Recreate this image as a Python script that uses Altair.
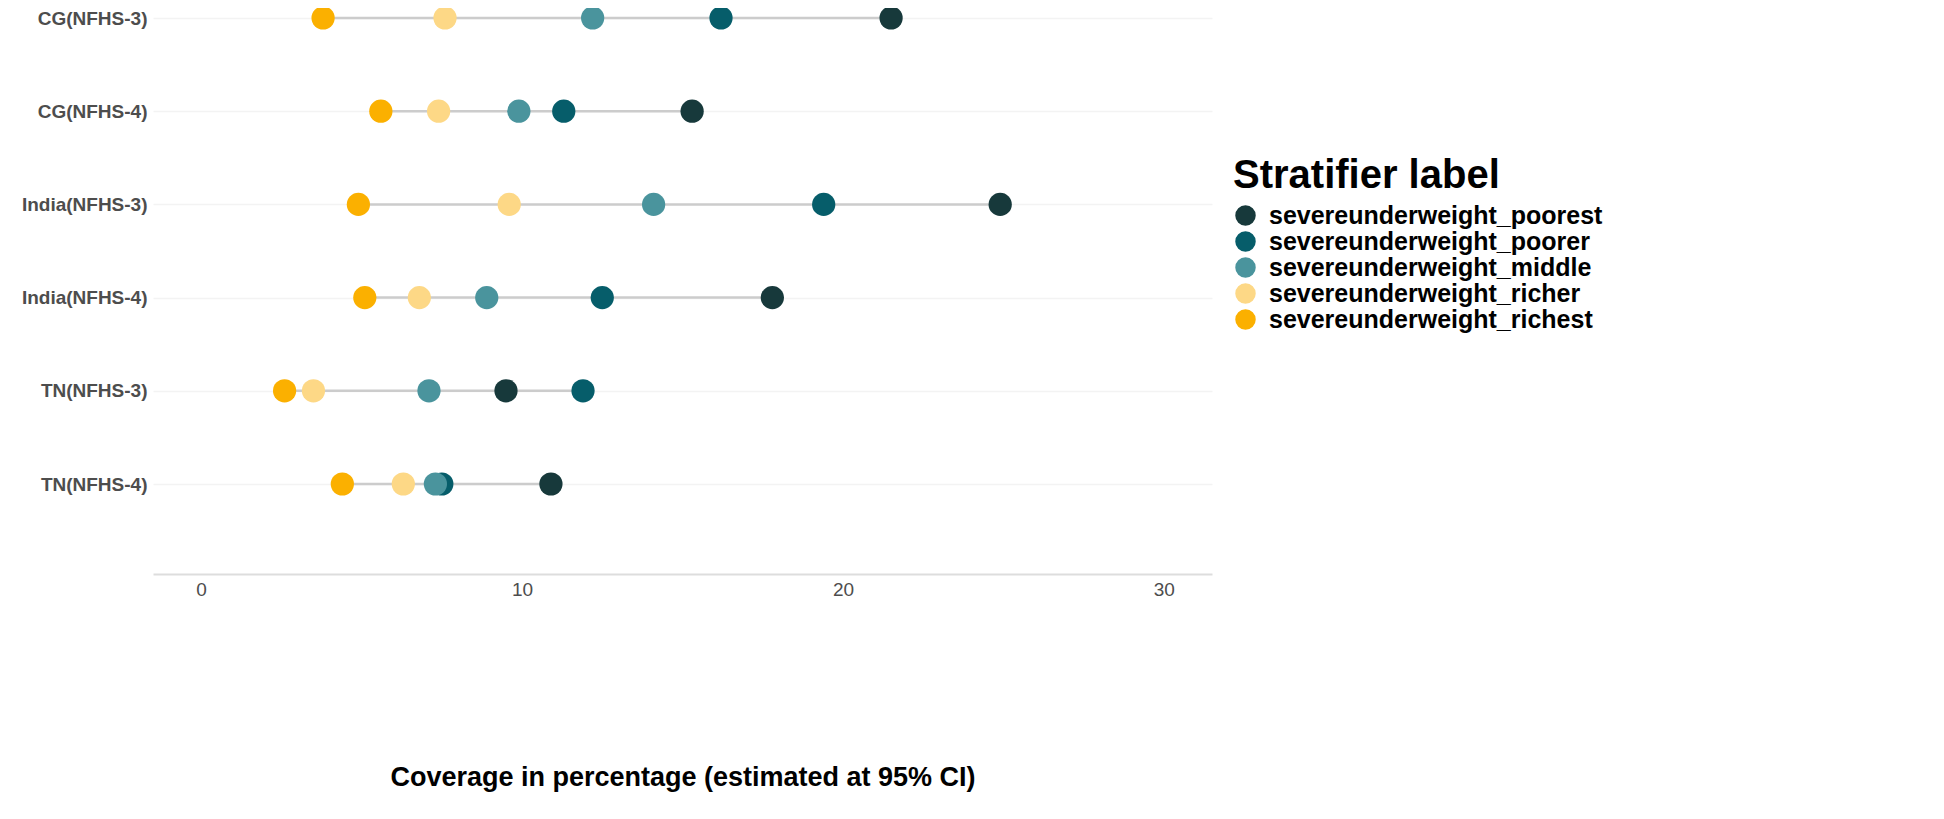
import altair as alt
import pandas as pd

regions = ["CG(NFHS-3)", "CG(NFHS-4)", "India(NFHS-3)", "India(NFHS-4)", "TN(NFHS-3)", "TN(NFHS-4)"]
groups = [
    "severeunderweight_poorest",
    "severeunderweight_poorer",
    "severeunderweight_middle",
    "severeunderweight_richer",
    "severeunderweight_richest",
]
colors = ["#17393b", "#065d6a", "#4a949d", "#fdd886", "#fbb000"]

poorest = [21.5, 15.3, 24.9, 17.8, 9.5, 10.9]
poorer = [16.2, 11.3, 19.4, 12.5, 11.9, 7.5]
middle = [12.2, 9.9, 14.1, 8.9, 7.1, 7.3]
richer = [7.6, 7.4, 9.6, 6.8, 3.5, 6.3]
richest = [3.8, 5.6, 4.9, 5.1, 2.6, 4.4]

series = [poorest, poorer, middle, richer, richest]
rows = []
for g, vals in zip(groups, series):
    for r, v in zip(regions, vals):
        rows.append({"region": r, "group": g, "value": v})
df = pd.DataFrame(rows)

rng = pd.DataFrame({
    "region": regions,
    "lo": [min(s[i] for s in series) for i in range(len(regions))],
    "hi": [max(s[i] for s in series) for i in range(len(regions))],
})

FONT = "Liberation Sans"

yscale = alt.Scale(domain=regions, type="point", range=[10, 476], padding=0)
xscale = alt.Scale(domain=[-1.5, 31.5], nice=False, zero=False)

yaxis = alt.Axis(
    title=None, labelFont=FONT, labelFontSize=19, labelFontWeight="bold",
    labelColor="#4d4d4d", ticks=False, domain=False, grid=True, gridColor="#f3f3f3",
    gridWidth=1.5, labelPadding=6, minExtent=145, maxExtent=145,
)
xaxis = alt.Axis(
    title="Coverage in percentage (estimated at 95% CI)", values=[0, 10, 20, 30],
    labelFont=FONT, labelFontSize=19, labelColor="#4d4d4d",
    ticks=False, grid=False, domain=True, domainColor="#dddddd", domainWidth=2,
    labelPadding=6, titleFont=FONT, titleFontSize=27, titleFontWeight="bold",
    titleColor="#000000", titlePadding=165,
)

lines = alt.Chart(rng).mark_rule(color="#cccccc", strokeWidth=2.5).encode(
    y=alt.Y("region:N", scale=yscale, axis=yaxis, sort=regions),
    x=alt.X("lo:Q", scale=xscale, axis=xaxis),
    x2="hi:Q",
)

points = alt.Chart(df).mark_circle(size=540, opacity=1).encode(
    y=alt.Y("region:N", scale=yscale, sort=regions),
    x=alt.X("value:Q", scale=xscale),
    color=alt.Color(
        "group:N",
        scale=alt.Scale(domain=groups, range=colors),
        sort=groups,
        legend=alt.Legend(
            title="Stratifier label", orient="none", legendX=1080, legendY=148,
            titleFont=FONT, titleFontSize=40, titleFontWeight="bold",
            titleColor="#000000", titlePadding=7, titleLimit=0,
            labelFont=FONT, labelFontSize=25, labelFontWeight="bold",
            labelColor="#000000", labelLimit=0, symbolType="circle", symbolSize=420,
            symbolStrokeWidth=0, rowPadding=-1, labelOffset=11, symbolOpacity=1,
        ),
    ),
)

chart = (lines + points).properties(
    width=1059, height=566,
    autosize=alt.AutoSizeParams(type="none"),
).configure(
    padding={"left": 145, "top": 0, "right": 700, "bottom": 240}
).configure_view(stroke=None)

chart.save("out.html", embed_options={"renderer": "svg", "actions": False})
